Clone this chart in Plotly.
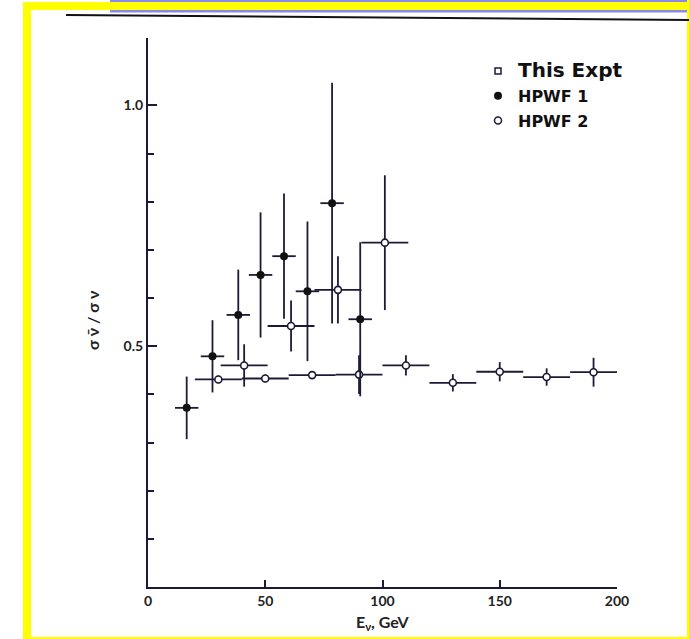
import plotly.graph_objects as go

# ---- data ----
expt_x = [30, 50, 70, 90, 110, 130, 150, 170, 190]
expt_y = [0.431, 0.433, 0.440, 0.441, 0.460, 0.424, 0.447, 0.436, 0.446]
expt_xerr = [10, 10, 10, 10, 10, 10, 10, 10, 10]
expt_yerr = [0.008, 0.008, 0.008, 0.04, 0.021, 0.018, 0.02, 0.018, 0.03]

hp1_x = [16.5, 27.5, 38.5, 48, 58, 68, 78.5, 90.5]
hp1_y = [0.372, 0.479, 0.565, 0.648, 0.687, 0.614, 0.797, 0.556]
hp1_xerr = [5, 5, 5, 5, 5, 5, 5, 5]
hp1_yerr = [0.065, 0.075, 0.094, 0.13, 0.13, 0.145, 0.25, 0.16]

hp2_x = [41, 61, 81, 101]
hp2_y = [0.460, 0.542, 0.617, 0.715]
hp2_xerr = [10, 10, 10, 10]
hp2_yerr = [0.044, 0.053, 0.07, 0.14]

x_ticks = [0, 50, 100, 150, 200]
y_ticks = [0.5, 1.0]
y_ticklabels = ["0.5", "1.0"]

INK = "#1c1a38"
W, H = 689, 639
L, R, T, B = 148, 72, 38, 52
PW, PH = W - L - R, H - T - B


def px(x):
    return (x - L) / PW


def py(y):
    return (H - B - y) / PH


fig = go.Figure()

err_style = dict(type="data", width=0, thickness=1.8, color=INK)

fig.add_trace(go.Scatter(
    x=expt_x, y=expt_y, mode="markers", showlegend=False,
    error_x=dict(array=expt_xerr, **err_style),
    error_y=dict(array=expt_yerr, **err_style),
    marker=dict(symbol="circle", size=7, color="white", line=dict(color=INK, width=1.6)),
))
fig.add_trace(go.Scatter(
    x=hp2_x, y=hp2_y, mode="markers", showlegend=False,
    error_x=dict(array=hp2_xerr, **err_style),
    error_y=dict(array=hp2_yerr, **err_style),
    marker=dict(symbol="circle", size=7, color="white", line=dict(color=INK, width=1.6)),
))
fig.add_trace(go.Scatter(
    x=hp1_x, y=hp1_y, mode="markers", showlegend=False,
    error_x=dict(array=hp1_xerr, **err_style),
    error_y=dict(array=hp1_yerr, **err_style),
    marker=dict(symbol="circle", size=8, color="#111"),
))

# legend-only entries
fig.add_trace(go.Scatter(x=[None], y=[None], mode="markers", legendgroup="a",
                         name='<span style="font-size:20px">This Expt</span>',
                         marker=dict(symbol="square-open", size=6, color=INK, line=dict(width=1.5))))
fig.add_trace(go.Scatter(x=[None], y=[None], mode="markers", name="HPWF 1", legendgroup="b",
                         marker=dict(symbol="circle", size=8, color="#111")))
fig.add_trace(go.Scatter(x=[None], y=[None], mode="markers", name="HPWF 2", legendgroup="c",
                         marker=dict(symbol="circle-open", size=7, color=INK, line=dict(width=1.5))))

tickfont = dict(family="Lato", size=14, color="#222", weight="bold")

fig.update_xaxes(
    range=[0, 200], tickvals=x_ticks, ticktext=[str(v) for v in x_ticks],
    showline=True, linecolor=INK, linewidth=2, mirror=False,
    ticks="inside", ticklen=7, tickwidth=2, tickcolor=INK,
    showgrid=False, zeroline=False, tickfont=tickfont,
)
fig.update_yaxes(
    range=[0, 1.14], tickvals=y_ticks, ticktext=y_ticklabels,
    showline=True, linecolor=INK, linewidth=2, mirror=False,
    ticks="inside", ticklen=9, tickwidth=2, tickcolor=INK,
    minor=dict(tickvals=[0.1, 0.2, 0.3, 0.4, 0.6, 0.7, 0.8, 0.9], ticks="inside",
               ticklen=6, tickwidth=2, tickcolor=INK),
    showgrid=False, zeroline=False, tickfont=tickfont,
)

shapes = []
YEL = "#ffff00"
PUR = "#8a88ee"


def rect(x0, y0, x1, y1, color):
    shapes.append(dict(type="rect", xref="paper", yref="paper",
                       x0=px(x0), x1=px(x1), y0=py(y1), y1=py(y0),
                       fillcolor=color, line=dict(width=0), layer="above"))


rect(110, 0, 689, 2, PUR)
rect(110, 10, 689, 12.5, PUR)
rect(23, 2, 689, 10, YEL)
rect(23, 2, 31, 639, YEL)
rect(23, 637, 689, 639, YEL)
rect(687, 0, 689, 639, YEL)
shapes.append(dict(type="line", xref="paper", yref="paper",
                   x0=px(66), y0=py(15), x1=px(689), y1=py(20),
                   line=dict(color="#111", width=2)))

annotations = [
    dict(text="σ ν̄ / σ ν", textangle=-90, x=px(92), y=py(320), xref="paper", yref="paper",
         xanchor="center", yanchor="middle",
         showarrow=False, font=dict(family="Lato", size=16, color="#222", weight="bold")),
    dict(text="E<sub>ν</sub>, GeV", x=px(382), y=py(622), xref="paper", yref="paper",
         xanchor="center", yanchor="middle",
         showarrow=False, font=dict(family="Lato", size=16, color="#222", weight="bold")),
]

fig.update_layout(
    width=W, height=H,
    margin=dict(l=L, r=R, t=T, b=B),
    paper_bgcolor="white", plot_bgcolor="white",
    shapes=shapes, annotations=annotations,
    showlegend=True,
    legend=dict(x=px(478), y=py(54), xanchor="left", yanchor="top",
                bgcolor="rgba(0,0,0,0)", borderwidth=0,
                font=dict(family="DejaVu Sans", size=16, color="#111", weight="bold"),
                itemsizing="trace", tracegroupgap=1),
)

fig.write_html("out.html", config={"displayModeBar": False},
               post_script="document.body.style.margin='0px';")
